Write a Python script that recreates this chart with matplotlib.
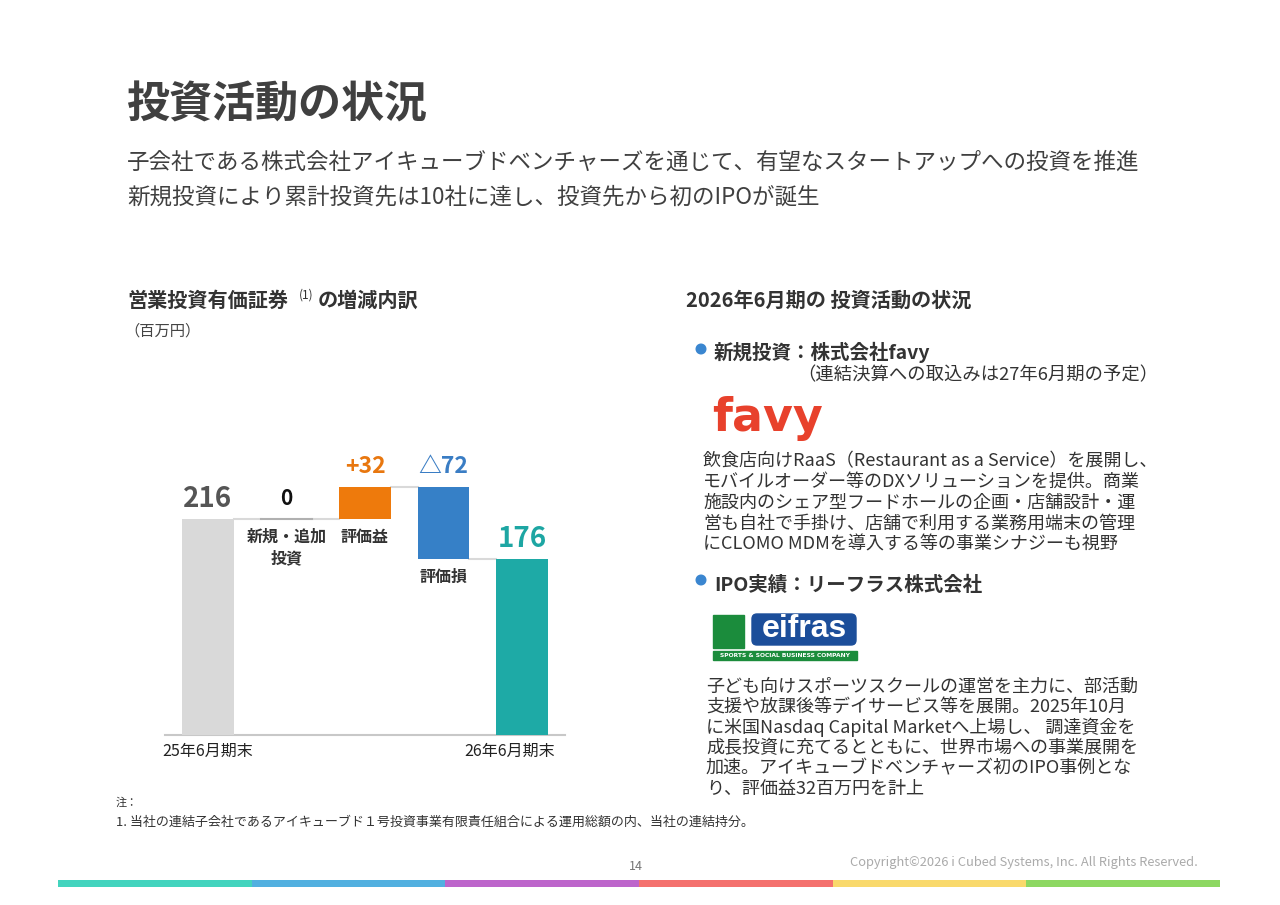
import numpy as np
import matplotlib
matplotlib.use("Agg")
import matplotlib.pyplot as plt
from matplotlib.patches import Rectangle, FancyBboxPatch, Circle
from matplotlib.transforms import ScaledTranslation

plt.rcParams['font.family'] = ['Noto Sans CJK JP', 'DejaVu Sans']

# ---- data ----
categories = ['25年6月期末', '新規・追加\n投資', '評価益', '評価損', '26年6月期末']
start_value = 216
changes = [0, 32, -72]
end_value = 176
value_labels = ['216', '0', '+32', '△72', '176']
bar_colors = ['#D9D9D9', '#A6A6A6', '#EE7A0C', '#3680C7', '#1EAAA6']
label_colors = ['#555555', '#111111', '#E8770F', '#3A7DC4', '#1DA6A3']

# waterfall geometry
bottoms, heights = [0], [start_value]
level = start_value
for c in changes:
    bottoms.append(min(level, level + c))
    heights.append(abs(c))
    level += c
bottoms.append(0)
heights.append(end_value)
x = np.arange(len(categories))

W, H = 1280, 905
fig = plt.figure(figsize=(W / 100, H / 100), dpi=100)
fig.patch.set_facecolor('white')

# overlay in pixel coordinates for page decorations
ov = fig.add_axes([0, 0, 1, 1])
ov.set_xlim(0, W)
ov.set_ylim(H, 0)
ov.axis('off')
ov.patch.set_alpha(0)

def txt(px, py, s, size, color='#333333', weight='normal', ha='left', va='center', **kw):
    ov.text(px, py, s, fontsize=size, color=color, fontweight=weight, ha=ha, va=va, **kw)

# header
txt(126, 105, '投資活動の状況', 31, '#404040', 'bold')
txt(127, 162, '子会社である株式会社アイキューブドベンチャーズを通じて、有望なスタートアップへの投資を推進', 16.2, '#404040')
txt(127, 197, '新規投資により累計投資先は10社に達し、投資先から初のIPOが誕生', 16.2, '#404040')

# left section title
txt(127, 300, '営業投資有価証券', 14.5, '#333333', 'bold')
txt(299, 295, '(1)', 8.5, '#333333')
txt(318, 300, 'の増減内訳', 14.5, '#333333', 'bold')
txt(124, 331, '（百万円）', 11, '#444444')

# ---- waterfall chart ----
ax = fig.add_axes([165 / W, 1 - 735 / H, 400 / W, 300 / H])
ax.patch.set_alpha(0)
ax.set_xlim(-0.548, 4.548)
ax.set_ylim(0, 300)
bw = 0.66
ax.bar(x, heights, bottom=bottoms, width=bw, color=bar_colors, zorder=3)
# zero-height bar drawn as thin line
ax.plot([x[1] - bw / 2, x[1] + bw / 2], [start_value, start_value], color='#B0B0B0', lw=1.5, zorder=3)

# connectors
tops = [b + h for b, h in zip(bottoms, heights)]
levels = [start_value, start_value, start_value + changes[1], end_value]
for i in range(len(categories) - 1):
    ax.plot([x[i] + bw / 2, x[i + 1] - bw / 2], [levels[i], levels[i]], color='#D9D9D9', lw=1.5, zorder=2)

sizes = [20, 15, 16.5, 16.5, 20]
for i in range(len(categories)):
    top = tops[i] if heights[i] > 0 else start_value
    ax.annotate(value_labels[i], (x[i], top), xytext=(0, 14.5), textcoords='offset points',
                ha='center', va='center', fontsize=sizes[i], fontweight='bold', color=label_colors[i])

# middle category labels under bars
for i in (1, 2, 3):
    ax.annotate(categories[i], (x[i], bottoms[i]), xytext=(0, -7), textcoords='offset points',
                ha='center', va='top', fontsize=11.5, fontweight='bold', color='#333333',
                linespacing=1.45)

for s in ['top', 'right', 'left']:
    ax.spines[s].set_visible(False)
ax.spines['bottom'].set_color('#C8C8C8')
ax.spines['bottom'].set_linewidth(1.5)
ax.set_yticks([])
ax.set_xticks([x[0], x[-1]])
ax.set_xticklabels([categories[0], categories[-1]], fontsize=11.5, color='#222222')
ax.tick_params(axis='x', length=0, pad=6)
last = ax.get_xticklabels()[1]
last.set_transform(last.get_transform() + ScaledTranslation(-0.12, 0, fig.dpi_scale_trans))

# ---- right panel ----
txt(686, 300, '2026年6月期の 投資活動の状況', 14.5, '#333333', 'bold')

ov.add_patch(Circle((701, 349), 4.8, color='#3A86D0'))
txt(714, 352, '新規投資：株式会社favy', 14, '#333333', 'bold')
txt(1158, 375, '（連結決算への取込みは27年6月期の予定）', 13.2, '#333333', ha='right')

# favy logo
ov.text(712, 418, 'favy', fontsize=33, color='#E8412C', fontweight='bold',
        family='DejaVu Sans', ha='left', va='center')

para1 = [
    '飲食店向けRaaS（Restaurant as a Service）を展開し、',
    'モバイルオーダー等のDXソリューションを提供。商業',
    '施設内のシェア型フードホールの企画・店舗設計・運',
    '営も自社で手掛け、店舗で利用する業務用端末の管理',
    'にCLOMO MDMを導入する等の事業シナジーも視野',
]
for k, line in enumerate(para1):
    txt(703, 461 + 20.8 * k, line, 13, '#333333')

ov.add_patch(Circle((701, 580), 4.8, color='#3A86D0'))
txt(714, 585, 'IPO実績：リーフラス株式会社', 14, '#333333', 'bold')

# leifras logo
ov.add_patch(Rectangle((713, 615), 31, 33, color='#1B8C3C'))
ov.add_patch(FancyBboxPatch((752, 614), 104, 31, boxstyle='round,pad=0,rounding_size=5', color='#1C4E9A'))
ov.text(804, 629, 'eifras', fontsize=23, color='white', fontweight='bold',
        family='Liberation Sans', ha='center', va='center')
ov.add_patch(Rectangle((713, 651), 144, 9, color='#1B8C3C'))
ov.text(785, 655.5, 'SPORTS & SOCIAL BUSINESS COMPANY', fontsize=4.3, color='white', fontweight='bold',
        family='DejaVu Sans', ha='center', va='center')

para2 = [
    '子ども向けスポーツスクールの運営を主力に、部活動',
    '支援や放課後等デイサービス等を展開。2025年10月',
    'に米国Nasdaq Capital Marketへ上場し、 調達資金を',
    '成長投資に充てるとともに、世界市場への事業展開を',
    '加速。アイキューブドベンチャーズ初のIPO事例とな',
    'り、評価益32百万円を計上',
]
for k, line in enumerate(para2):
    txt(706, 687 + 20.3 * k, line, 13, '#333333')

# notes & footer
txt(116, 803, '注：', 8, '#333333')
txt(116, 822, '1. 当社の連結子会社であるアイキューブド１号投資事業有限責任組合による運用総額の内、当社の連結持分。', 9.4, '#333333')
txt(636, 866, '14', 9, '#777777', ha='center')
txt(1198, 862, 'Copyright©2026 i Cubed Systems, Inc. All Rights Reserved.', 9.3, '#AAAAAA', ha='right')

footer_colors = ['#43D4BE', '#52B0E0', '#BD65CB', '#F4716E', '#F9D96C', '#8DD862']
seg = (1220 - 58) / len(footer_colors)
for k, c in enumerate(footer_colors):
    ov.add_patch(Rectangle((58 + seg * k, 880), seg, 7, color=c, lw=0))

fig.savefig('out.png', dpi=100)
